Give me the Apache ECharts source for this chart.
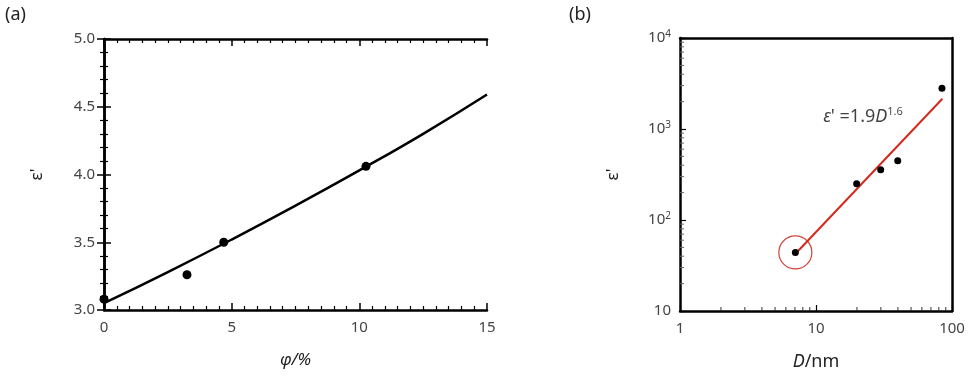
<!DOCTYPE html>
<html><head><meta charset="utf-8">
<script src="https://cdn.jsdelivr.net/npm/echarts@6/dist/echarts.min.js"></script>
<style>html,body{margin:0;padding:0;background:#fff}#c{width:976px;height:376px}</style>
</head><body><div id="c"></div>
<script>
// Panel (a): permittivity vs volume fraction
const phiPoints = [[0, 3.08], [3.25, 3.26], [4.69, 3.50], [10.26, 4.06]];
const phiFit = [[0, 3.05], [2.5, 3.28], [5, 3.52], [7.5, 3.77], [10, 4.03], [12.5, 4.30], [15, 4.59]];
// Panel (b): permittivity vs particle size (log-log)
const dPoints = [[7.05, 44], [19.9, 250], [29.9, 357], [39.9, 449], [84.4, 2810]];
const dFit = [[7.2, 44], [85, 2150]];
const circled = [[7.05, 44]];
const fitLabelAt = [[11.3, 1360]];
const logMinorX = [2, 3, 4, 5, 6, 7, 8, 9, 20, 30, 40, 50, 60, 70, 80, 90];
const logMinorY = [20, 30, 40, 50, 60, 70, 80, 90, 200, 300, 400, 500, 600, 700, 800, 900, 2000, 3000, 4000, 5000, 6000, 7000, 8000, 9000];

const FONT = 'Noto Sans';
const LBL = '#444';
const lbl = (extra) => Object.assign({color: LBL, fontFamily: FONT, fontSize: 15}, extra || {});
const line2 = {show: true, lineStyle: {color: '#000', width: 2.5}};

const chart = echarts.init(document.getElementById('c'), null, {renderer: 'canvas'});
const supRich = {sup: {fontSize: 10, color: LBL, fontFamily: FONT, verticalAlign: 'top', padding: [0, 0, 8, 0]}, base: {fontSize: 15, color: LBL, fontFamily: FONT}};

chart.setOption({
  animation: false,
  backgroundColor: '#fff',
  graphic: [
    {type: 'text', left: 5, top: 6, style: {text: '(a)', fontSize: 18, fontFamily: FONT, fill: '#222'}},
    {type: 'text', left: 569, top: 6, style: {text: '(b)', fontSize: 18, fontFamily: FONT, fill: '#222'}}
  ],
  grid: [
    {left: 104, top: 39, width: 383, height: 271},
    {left: 680, top: 38, width: 272, height: 273}
  ],
  xAxis: [
    {gridIndex: 0, type: 'value', min: 0, max: 15, interval: 5, position: 'bottom',
     name: 'φ/%', nameLocation: 'middle', nameGap: 42,
     nameTextStyle: {fontFamily: FONT, fontSize: 17, fontStyle: 'italic', color: '#222'},
     axisLine: line2, axisTick: {inside: true, length: 7, lineStyle: {color: '#000', width: 1.5}},
     minorTick: {show: true, splitNumber: 10, length: 4, lineStyle: {color: '#000', width: 1.2}},
     splitLine: {show: false}, axisLabel: lbl({margin: 10})},
    {gridIndex: 0, type: 'value', min: 0, max: 15, interval: 5, position: 'top',
     axisLine: line2, axisTick: {inside: true, length: 7, lineStyle: {color: '#000', width: 1.5}},
     minorTick: {show: true, splitNumber: 10, length: 4, lineStyle: {color: '#000', width: 1.2}},
     splitLine: {show: false}, axisLabel: {show: false}},
    {gridIndex: 1, type: 'log', logBase: 10, min: 1, max: 100, position: 'bottom',
     name: '{i|D}{n|/nm}', nameLocation: 'middle', nameGap: 42,
     nameTextStyle: {rich: {i: {fontFamily: FONT, fontSize: 18, fontStyle: 'italic', color: '#222'}, n: {fontFamily: FONT, fontSize: 18, color: '#222'}}},
     axisLine: line2, axisTick: {inside: true, length: 6, lineStyle: {color: '#000', width: 1.2}},
     splitLine: {show: false}, minorTick: {show: false},
     axisLabel: lbl({margin: 10, formatter: v => String(Math.round(v))})},
    {gridIndex: 1, type: 'log', logBase: 10, min: 1, max: 100, position: 'top',
     axisLine: line2, axisTick: {show: false}, splitLine: {show: false}, axisLabel: {show: false}}
  ],
  yAxis: [
    {gridIndex: 0, type: 'value', min: 3, max: 5, interval: 0.5, position: 'left',
     name: "ε'", nameLocation: 'middle', nameGap: 58, nameRotate: 90,
     nameTextStyle: {fontFamily: FONT, fontSize: 17, color: '#222'},
     axisLine: line2, axisTick: {inside: true, length: 7, lineStyle: {color: '#000', width: 1.5}},
     minorTick: {show: true, splitNumber: 5, length: 4, lineStyle: {color: '#000', width: 1.2}},
     splitLine: {show: false}, axisLabel: lbl({margin: 9, formatter: v => v.toFixed(1)})},
    {gridIndex: 0, type: 'value', min: 3, max: 5, interval: 0.5, position: 'right',
     axisLine: line2, axisTick: {inside: true, length: 7, lineStyle: {color: '#000', width: 1.5}},
     minorTick: {show: true, splitNumber: 5, length: 4, lineStyle: {color: '#000', width: 1.2}},
     splitLine: {show: false}, axisLabel: {show: false}},
    {gridIndex: 1, type: 'log', logBase: 10, min: 10, max: 10000, position: 'left',
     name: "ε'", nameLocation: 'middle', nameGap: 58, nameRotate: 90,
     nameTextStyle: {fontFamily: FONT, fontSize: 17, color: '#222'},
     axisLine: line2, axisTick: {inside: true, length: 6, lineStyle: {color: '#000', width: 1.2}},
     splitLine: {show: false}, minorTick: {show: false},
     axisLabel: lbl({margin: 9, rich: supRich, formatter: v => {
       const e = Math.round(Math.log10(v));
       return e === 1 ? '{base|10}' : '{base|10}{sup|' + e + '}';
     }})},
    {gridIndex: 1, type: 'log', logBase: 10, min: 10, max: 10000, position: 'right',
     axisLine: line2, axisTick: {show: false}, splitLine: {show: false}, axisLabel: {show: false}}
  ],
  series: [
    {type: 'line', xAxisIndex: 0, yAxisIndex: 0, data: phiFit, smooth: true, showSymbol: false,
     lineStyle: {color: '#000', width: 2.5}, z: 3},
    {type: 'scatter', xAxisIndex: 0, yAxisIndex: 0, data: phiPoints, symbolSize: 9,
     itemStyle: {color: '#000', opacity: 1}, clip: false, z: 4},
    {type: 'line', xAxisIndex: 2, yAxisIndex: 2, data: dFit, showSymbol: false,
     lineStyle: {color: '#d42a1e', width: 2}, z: 3},
    {type: 'scatter', xAxisIndex: 2, yAxisIndex: 2, data: dPoints, symbolSize: 7,
     itemStyle: {color: '#000', opacity: 1}, z: 4},
    {type: 'scatter', xAxisIndex: 2, yAxisIndex: 2, data: circled, symbolSize: 33,
     itemStyle: {color: 'rgba(0,0,0,0)', borderColor: '#d0463c', borderWidth: 1.2, opacity: 1}, z: 2},
    {type: 'scatter', xAxisIndex: 2, yAxisIndex: 2, data: fitLabelAt, symbolSize: 0, z: 5,
     label: {show: true, position: 'right', distance: 0,
       formatter: "{e|ε}{a|' =1.9}{i|D}{s|1.6}",
       rich: {e: {fontFamily: FONT, fontSize: 18, fontStyle: 'italic', color: '#111'},
              a: {fontFamily: FONT, fontSize: 18, color: '#111'},
              i: {fontFamily: FONT, fontSize: 18, fontStyle: 'italic', color: '#111'},
              s: {fontFamily: FONT, fontSize: 11, color: '#111', verticalAlign: 'top', padding: [0, 0, 9, 0]}}}},
    {type: 'scatter', xAxisIndex: 2, yAxisIndex: 2, data: logMinorX.map(v => [v, 10]), symbol: 'rect',
     symbolSize: [1, 4], symbolOffset: [0, -2], itemStyle: {color: '#333', opacity: 1}, clip: false, silent: true, z: 6},
    {type: 'scatter', xAxisIndex: 2, yAxisIndex: 2, data: logMinorY.map(v => [1, v]), symbol: 'rect',
     symbolSize: [4, 1], symbolOffset: [2, 0], itemStyle: {color: '#666', opacity: 1}, clip: false, silent: true, z: 6}
  ]
});
</script></body></html>
